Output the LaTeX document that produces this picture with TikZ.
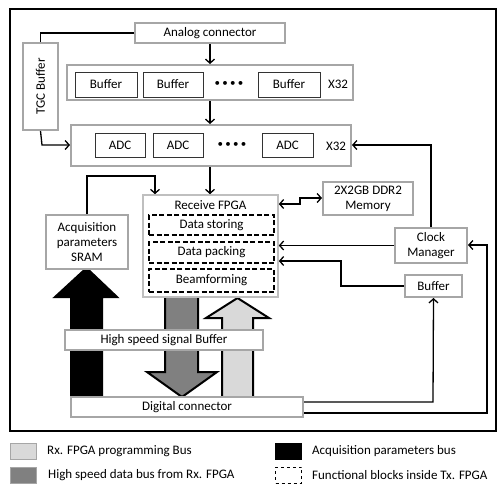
\documentclass[tikz,border=0pt]{standalone}
\usepackage{fontspec}
\setmainfont{Carlito}
\usetikzlibrary{arrows.meta}
\definecolor{boxgray}{HTML}{A6A6A6}
\definecolor{fpgagray}{HTML}{BFBFBF}
\definecolor{lightbus}{HTML}{D9D9D9}
\definecolor{darkbus}{HTML}{808080}
\newcommand{\fourdots}{\textbullet\kern2.2pt\textbullet\kern2.2pt\textbullet\kern2.2pt\textbullet}
\begin{document}
\begin{tikzpicture}[x=1pt,y=-1pt,
  every node/.style={font=\fontsize{13}{15}\selectfont, inner sep=0pt, align=center},
  gbox/.style={draw=boxgray, line width=2pt, fill=white},
  ibox/.style={draw=black!80, line width=0.9pt, fill=white},
  fbox/.style={draw=fpgagray, line width=1.6pt, fill=white},
  dbox/.style={draw=black, line width=1.6pt, dashed, dash pattern=on 5pt off 2.5pt},
  conn/.style={draw=black, line width=1.3pt},
  arr/.style={conn, -{Straight Barb[length=4pt,width=9pt,line width=1.3pt]}},
  darr/.style={conn, {Straight Barb[length=4pt,width=9pt,line width=1.3pt]}-{Straight Barb[length=4pt,width=9pt,line width=1.3pt]}},
  bus/.style={draw=black, line width=2pt, line join=miter},
  dots/.style={font=\fontsize{11}{11}\selectfont}
]
\useasboundingbox (0,0) rectangle (498,483);
% outer frame
\draw[line width=2.5pt] (10,9) rectangle (496,431);

% block arrows (bus)
\draw[bus, fill=black] (71,397) -- (71,297) -- (55,297) -- (86.5,268) -- (117,297) -- (102,297) -- (102,397) -- cycle;
\draw[bus, fill=darkbus] (165,297) -- (165,372) -- (147,372) -- (182,397) -- (217,372) -- (198,372) -- (198,297);
\draw[bus, fill=lightbus] (222,397) -- (222,318) -- (206,318) -- (237.5,298) -- (269,318) -- (253,318) -- (253,397);

% nodes
\node[gbox, minimum width=150, minimum height=20] (analog) at (210,33) {Analog connector};
\node[gbox, minimum width=87, minimum height=35, rotate=90] (tgc) at (40.5,86.5) {TGC Buffer};
\node[gbox, minimum width=286, minimum height=35] (bufrow) at (210,82.5) {};
\node[ibox, minimum width=62, minimum height=25] (buf1) at (106,84.5) {Buffer};
\node[ibox, minimum width=60, minimum height=25] (buf2) at (173,84.5) {Buffer};
\node[dots] (bdots) at (229,84) {\fourdots};
\node[ibox, minimum width=62, minimum height=25] (buf3) at (289,84.5) {Buffer};
\node (bx32) at (338,84.5) {X32};

\node[gbox, minimum width=280, minimum height=41] (adcrow) at (211,145.5) {};
\node[ibox, minimum width=50, minimum height=24] (adc1) at (120,145) {ADC};
\node[ibox, minimum width=50, minimum height=24] (adc2) at (178,145) {ADC};
\node[dots] (adots) at (232,145) {\fourdots};
\node[ibox, minimum width=51, minimum height=24] (adc3) at (287.5,145) {ADC};
\node (ax32) at (336,146) {X32};

\node[fbox, minimum width=135, minimum height=102] (fpga) at (210.5,246) {};
\node (fpgat) at (210.5,205) {Receive FPGA};
\node[dbox, minimum width=125, minimum height=20] (store) at (211.5,225) {Data storing};
\node[dbox, minimum width=125, minimum height=21] (pack) at (211.5,252.5) {Data packing};
\node[dbox, minimum width=125, minimum height=23] (beam) at (211.5,280.5) {Beamforming};

\node[gbox, minimum width=82, minimum height=54] (sram) at (87,242) {Acquisition\\parameters\\SRAM};
\node[gbox, minimum width=198, minimum height=20] (hsbuf) at (164,340) {High speed signal Buffer};
\node[gbox, minimum width=232, minimum height=20] (digital) at (187,407) {Digital connector};
\node[gbox, minimum width=90, minimum height=33] (ddr) at (368,198.5) {2X2GB DDR2\\Memory};
\node[gbox, minimum width=72, minimum height=35] (clock) at (431,245.5) {Clock\\Manager};
\node[gbox, minimum width=57, minimum height=22] (sbuf) at (433.5,286) {Buffer};

% connectors
\coordinate (c1) at (42,33);
\draw[conn] (analog.west) -- (c1) -- (tgc.east |- c1) -- (tgc.east);
\coordinate (c2) at (42,145);
\draw[arr] (tgc.west) -- (c2) -- (adcrow.west |- c2);
\draw[arr] (analog.south) -- (bufrow.north);
\draw[arr] (bufrow.south) -- (adcrow.north -| bufrow.south);
\draw[arr] (adcrow.south -| bufrow.south) -- (fpga.north -| bufrow.south);
\coordinate (c3) at (87,176);
\coordinate (c4) at (155,176);
\draw[arr] (sram.north) -- (c3) -- (c4) -- (c4 |- fpga.north);
\coordinate (c5) at (431,145);
\draw[arr] (clock.north) -- (c5) -- (adcrow.east |- c5);
\draw[arr] (clock.west) -- (fpga.east |- clock.west);
\coordinate (c6) at (341,286);
\coordinate (c7) at (341,261);
\draw[arr] (sbuf.west) -- (c6) -- (c7) -- (fpga.east |- c7);
\coordinate (c8) at (300,204);
\coordinate (c9) at (300,198);
\draw[darr] (fpga.east |- c8) -- (c8) -- (c9) -- (ddr.west |- c9);
\coordinate (c10) at (433,402);
\draw[arr] (digital.east |- c10) -- (c10) -- (sbuf.south);
\coordinate (c11) at (487,413);
\coordinate (c12) at (487,245);
\draw[arr] (digital.east |- c11) -- (c11) -- (c12) -- (clock.east |- c12);

% legend
\node[draw=boxgray, line width=1pt, fill=lightbus, minimum width=26, minimum height=16] (lg1) at (23,451) {};
\node[anchor=west] (lt1) at (47,451) {Rx. FPGA programming Bus};
\node[draw=boxgray, line width=1pt, fill=darkbus, minimum width=26, minimum height=16] (lg2) at (23,475) {};
\node[anchor=west] (lt2) at (48,475) {High speed data bus  from Rx. FPGA};
\node[draw=black, line width=1pt, fill=black, minimum width=26, minimum height=16] (lg3) at (288.5,451) {};
\node[anchor=west] (lt3) at (312,451) {Acquisition parameters bus};
\node[draw=black, line width=0.6pt, dashed, minimum width=26, minimum height=16] (lg4) at (288.5,475) {};
\node[anchor=west] (lt4) at (312,475) {Functional  blocks inside Tx. FPGA};
\end{tikzpicture}
\end{document}
